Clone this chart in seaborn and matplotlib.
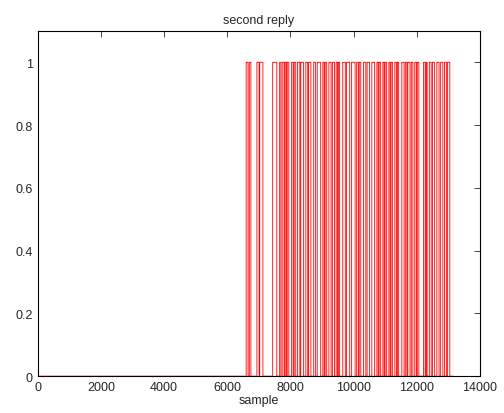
import numpy as np
import pandas as pd
import matplotlib
matplotlib.use("Agg")
import matplotlib.pyplot as plt
import seaborn as sns

# =========================
# Data: pulse intervals (sample index where reply = 1)
# =========================
n_samples = 13150
pulse_start = [6600, 6700, 6940, 7030, 7440, 7660, 7740, 7830, 7900, 8040, 8120, 8230, 8330,
               8490, 8580, 8740, 8850, 9030, 9100, 9220, 9330, 9450, 9520, 9660, 9780,
               9940, 10100, 10180, 10320, 10430, 10580, 10740, 10810, 10930, 11000,
               11120, 11190, 11310, 11390, 11530, 11640, 11720, 11830, 11940, 12020,
               12220, 12300, 12400, 12500, 12640, 12760, 12880, 12980]
pulse_end = [6660, 6750, 7010, 7130, 7570, 7700, 7800, 7870, 7950, 8090, 8170, 8300, 8420,
             8550, 8650, 8800, 8960, 9070, 9150, 9290, 9400, 9490, 9560, 9740, 9880,
             10050, 10150, 10230, 10390, 10510, 10670, 10780, 10860, 10970, 11050,
             11160, 11240, 11360, 11430, 11600, 11690, 11790, 11880, 11990, 12070,
             12270, 12330, 12460, 12570, 12710, 12830, 12940, 13050]

sample = np.arange(n_samples)
reply = np.zeros(n_samples)
for s, e in zip(pulse_start, pulse_end):
    reply[s:e] = 1

df = pd.DataFrame({"sample": sample, "reply": reply})

# =========================
# Plot
# =========================
sns.set_style("white")
plt.rcParams["font.family"] = ["Liberation Sans", "DejaVu Sans"]

fig = plt.figure(figsize=(5.04, 4.14), dpi=100)
ax = fig.add_axes([0.075, 0.089, 0.877, 0.834])

sns.lineplot(data=df, x="sample", y="reply", color="red", linewidth=0.6,
             drawstyle="steps-post", estimator=None, ax=ax)

ax.set_xlim(0, 14000)
ax.set_ylim(0, 1.1)
ax.set_xticks(range(0, 14001, 2000))
ax.set_yticks([0, 0.2, 0.4, 0.6, 0.8, 1])
ax.set_yticklabels(["0", "0.2", "0.4", "0.6", "0.8", "1"])
ax.tick_params(direction="in", top=True, right=True, length=4, labelsize=9, width=0.6)
for sp in ax.spines.values():
    sp.set_visible(True)
    sp.set_color("black")
    sp.set_linewidth(0.8)

ax.set_title("second reply", fontsize=9)
ax.set_xlabel("sample", fontsize=9, labelpad=1)
ax.set_ylabel("")

fig.savefig("out.png", dpi=100)
